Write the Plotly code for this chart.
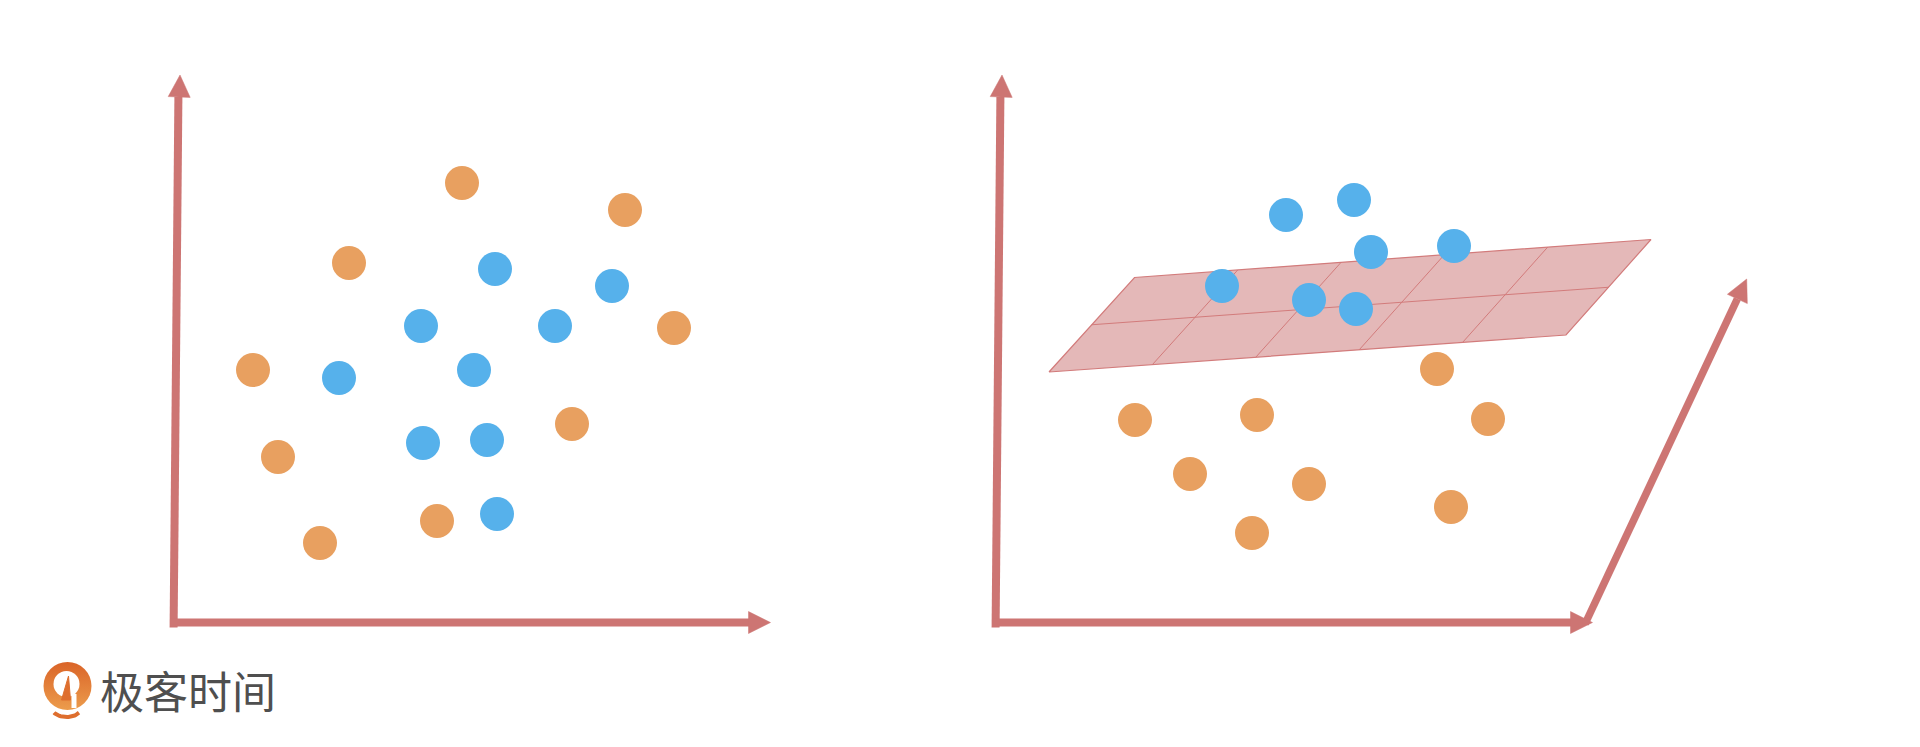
import numpy as np
import plotly.graph_objects as go

# dot positions (pixel space, y grows downward)
left_orange_x = [462, 625, 349, 674, 253, 572, 278, 437, 320]
left_orange_y = [183, 210, 263, 328, 370, 424, 457, 521, 543]
left_blue_x = [495, 612, 421, 555, 474, 339, 423, 487, 497]
left_blue_y = [269, 286, 326, 326, 370, 378, 443, 440, 514]

right_blue_x = [1286, 1354, 1371, 1454, 1222, 1309, 1356]
right_blue_y = [215, 200, 252, 246, 286, 300, 309]
right_orange_x = [1437, 1135, 1257, 1488, 1190, 1309, 1451, 1252]
right_orange_y = [369, 420, 415, 419, 474, 484, 507, 533]

# separating plane corners (bottom-left, top-left, top-right, bottom-right)
plane_x = [1049, 1134.5, 1651, 1566]
plane_y = [372, 277.5, 239.5, 335]
plane_cols = 5
plane_rows = 2

logo_text = "极客时间"

AXIS = "#CD7573"
ORANGE = "#E8A060"
BLUE = "#56B1EB"
PLANE_FILL = "#E4B8B8"
PLANE_EDGE = "#D27B7B"
LOGO = "#DE6E2E"

fig = go.Figure()


def seg(x0, y0, x1, y1, width=8, color=AXIS):
    fig.add_trace(go.Scatter(x=[x0, x1], y=[y0, y1], mode="lines",
                             line=dict(color=color, width=width),
                             hoverinfo="skip"))


def head(tip, base, half=11):
    tx, ty = tip
    bx, by = base
    dx, dy = tx - bx, ty - by
    n = np.hypot(dx, dy)
    px, py = -dy / n * half, dx / n * half
    fig.add_trace(go.Scatter(x=[tx, bx + px, bx - px, tx],
                             y=[ty, by + py, by - py, ty],
                             mode="lines", fill="toself", fillcolor=AXIS,
                             line=dict(color=AXIS, width=0.5),
                             hoverinfo="skip"))


def axes(off):
    # y axis
    seg(173.6 + off, 627.5, 178.4 + off, 97)
    head((180 + off, 75), (179.2 + off, 97))
    # x axis
    seg(170 + off, 622.5, 749 + off, 622.5)
    head((770.5 + off, 622.5), (748.5 + off, 622.5))


axes(0)
axes(822)

# depth axis of the right panel
tip = np.array([1746.7, 279.0])
start = np.array([1585.0, 624.0])
u = (tip - start) / np.linalg.norm(tip - start)
base = tip - 22 * u
seg(start[0], start[1], base[0], base[1], width=7.5)
head(tuple(tip), tuple(base))

# plane
fig.add_trace(go.Scatter(x=plane_x + [plane_x[0]], y=plane_y + [plane_y[0]],
                         mode="lines", fill="toself", fillcolor=PLANE_FILL,
                         line=dict(color=PLANE_EDGE, width=1.2),
                         hoverinfo="skip"))

bl = np.array([plane_x[0], plane_y[0]])
tl = np.array([plane_x[1], plane_y[1]])
tr = np.array([plane_x[2], plane_y[2]])
br = np.array([plane_x[3], plane_y[3]])
for i in range(1, plane_cols):
    t = i / plane_cols
    a = bl + (br - bl) * t
    b = tl + (tr - tl) * t
    seg(a[0], a[1], b[0], b[1], width=1, color=PLANE_EDGE)
for j in range(1, plane_rows):
    t = j / plane_rows
    a = bl + (tl - bl) * t
    b = br + (tr - br) * t
    seg(a[0], a[1], b[0], b[1], width=1, color=PLANE_EDGE)


def dots(xs, ys, color):
    fig.add_trace(go.Scatter(x=xs, y=ys, mode="markers",
                             marker=dict(size=34, color=color,
                                         line=dict(width=0)),
                             hoverinfo="skip"))


dots(left_orange_x, left_orange_y, ORANGE)
dots(left_blue_x, left_blue_y, BLUE)
dots(right_orange_x, right_orange_y, ORANGE)
dots(right_blue_x, right_blue_y, BLUE)

# logo: ring + inner stroke + smile + text
cx, cy = 67.5, 686
fig.add_trace(go.Scatter(x=[cx], y=[cy], mode="markers",
                         marker=dict(size=48, color="#DA6428",
                                     gradient=dict(type="vertical", color="#EC9C4C"),
                                     line=dict(width=0)),
                         hoverinfo="skip"))
fig.add_trace(go.Scatter(x=[cx - 1], y=[cy - 2], mode="markers",
                         marker=dict(size=26, color="white", line=dict(width=0)),
                         hoverinfo="skip"))
fig.add_trace(go.Scatter(x=[cx + 4, cx + 9, cx + 9, cx + 4, cx + 4],
                         y=[cy + 8, cy + 8, cy + 22, cy + 22, cy + 8],
                         mode="lines", fill="toself", fillcolor="white",
                         line=dict(color="white", width=0), hoverinfo="skip"))
fig.add_trace(go.Scatter(x=[cx - 6, cx + 1, cx + 3, cx - 6],
                         y=[cy + 14, cy - 10, cy + 14, cy + 14], mode="lines",
                         fill="toself", fillcolor=LOGO,
                         line=dict(color=LOGO, width=1),
                         hoverinfo="skip"))
ang = np.linspace(0.15 * np.pi, 0.85 * np.pi, 24)
fig.add_trace(go.Scatter(x=cx - 1 + 14 * np.cos(ang), y=cy + 23 + 8 * np.sin(ang),
                         mode="lines", line=dict(color=LOGO, width=4),
                         hoverinfo="skip"))

fig.add_annotation(x=98, y=690, xref="x", yref="y", text=logo_text,
                   showarrow=False, xanchor="left", yanchor="middle",
                   font=dict(family="Noto Sans CJK SC", size=44, color="#4F4F4F"))

# the page body keeps an 8px margin, so the plot is 16px smaller and the
# ranges start at 8 to keep one unit per screen pixel
fig.update_layout(
    width=1904, height=731,
    margin=dict(l=0, r=0, t=0, b=0),
    paper_bgcolor="white", plot_bgcolor="white",
    showlegend=False,
    xaxis=dict(range=[8, 1912], visible=False, fixedrange=True),
    yaxis=dict(range=[739, 8], visible=False, fixedrange=True),
)

fig.write_html("out.html", config={"displayModeBar": False})
